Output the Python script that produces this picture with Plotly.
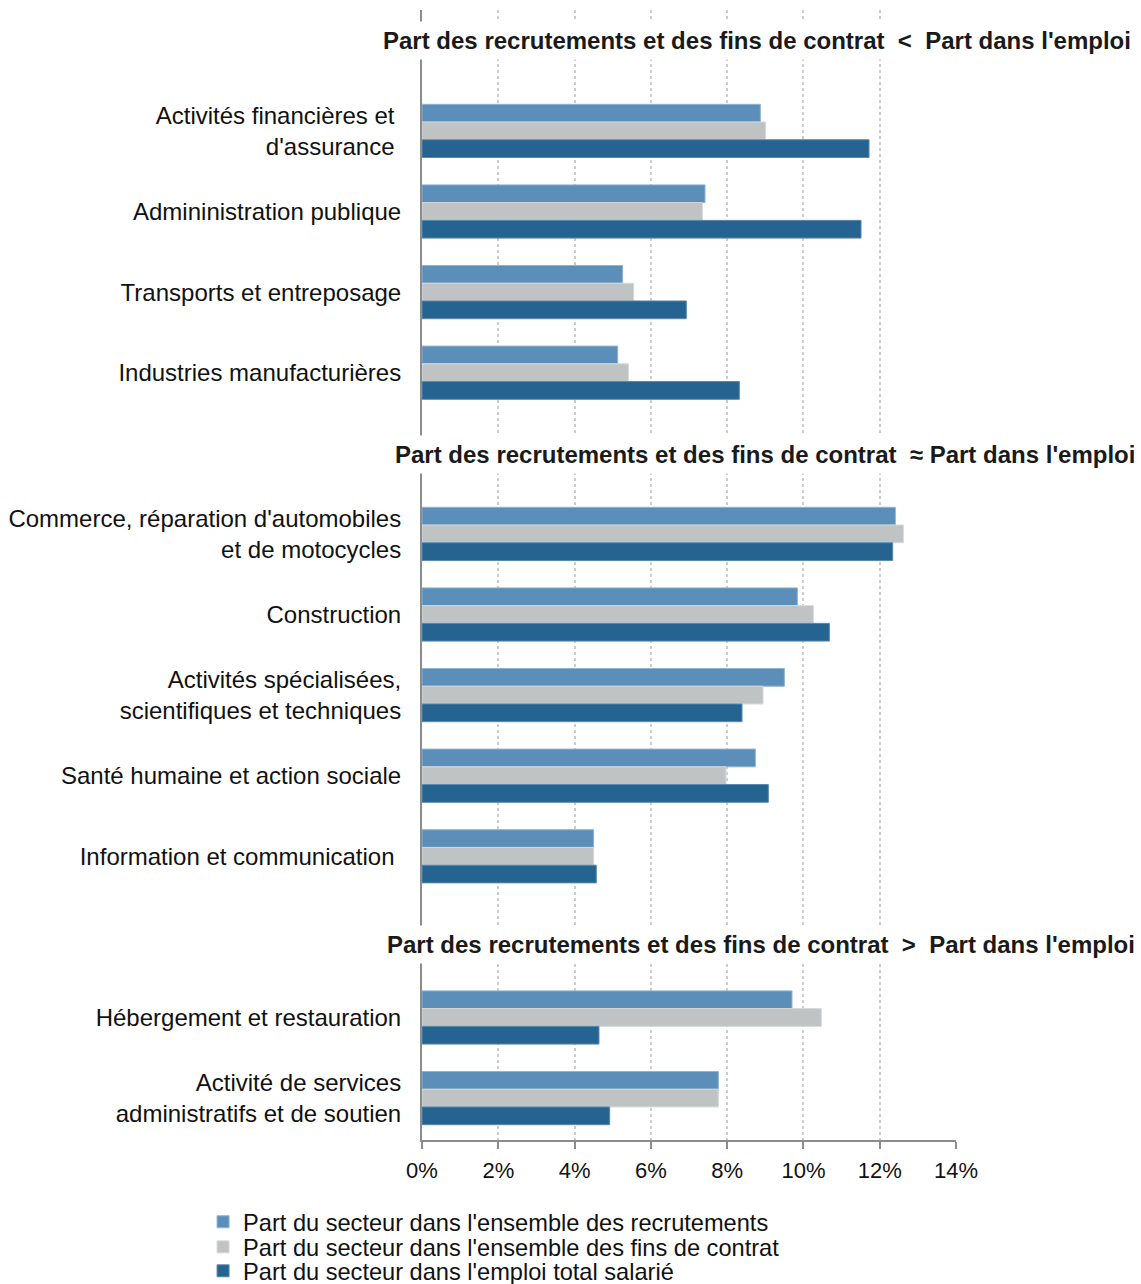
import plotly.graph_objects as go

# Categories (top to bottom), with blank placeholders for section headers
categories = [
    " ",
    "Activités financières et\u00a0<br>d'assurance\u00a0",
    "Admininistration publique",
    "Transports et entreposage",
    "Industries manufacturières",
    "  ",
    "Commerce, réparation d'automobiles<br>et de motocycles",
    "Construction",
    "Activités spécialisées,<br>scientifiques et techniques",
    "Santé humaine et action sociale",
    "Information et communication\u00a0",
    "   ",
    "Hébergement et restauration",
    "Activité de services<br>administratifs et de soutien",
]

# Values in % (None for header placeholders)
recrutements = [None, 8.87, 7.42, 5.26, 5.13, None, 12.41, 9.84, 9.50, 8.74, 4.50, None, 9.70, 7.77]
fins_contrat = [None, 9.01, 7.35, 5.55, 5.41, None, 12.62, 10.26, 8.94, 7.97, 4.50, None, 10.47, 7.77]
emploi_total = [None, 11.72, 11.51, 6.93, 8.32, None, 12.34, 10.68, 8.39, 9.08, 4.57, None, 4.64, 4.92]

series_names = [
    "Part du secteur dans l'ensemble des recrutements",
    "Part du secteur dans l'ensemble des fins de contrat",
    "Part du secteur dans l'emploi total salarié",
]
series_colors = ["#5B8FB9", "#BFC3C4", "#256490"]
series_edges = ["#8FB3D2", "#D6D9DA", "#5A89AE"]
legend_ids = ["legend", "legend2", "legend3"]
legend_y = [-0.0725, -0.0947, -0.1159]

headers = [
    "Part des recrutements et des fins de contrat\u00a0 <\u00a0 Part dans l'emploi",
    "Part des recrutements et des fins de contrat\u00a0 \u2248 Part dans l'emploi",
    "Part des recrutements et des fins de contrat\u00a0 >\u00a0 Part dans l'emploi",
]
header_pos = [-0.12, 5.01, 11.1]
header_x = [1.339, 1.346, 1.346]

x_ticks = [0, 2, 4, 6, 8, 10, 12, 14]
x_ticklabels = [f"{t}%" for t in x_ticks]

FONT = "Liberation Sans, Arial, sans-serif"

fig = go.Figure()
for name, vals, col, edge, lg in zip(series_names, [recrutements, fins_contrat, emploi_total],
                                     series_colors, series_edges, legend_ids):
    fig.add_trace(go.Bar(
        y=categories, x=vals, name=name, orientation="h", legend=lg,
        marker=dict(color=col, line=dict(color=edge, width=1)),
    ))

for txt, yp, xp in zip(headers, header_pos, header_x):
    fig.add_annotation(
        text=f"<b>{txt}</b>", xref="paper", yref="y", x=xp, y=yp,
        xanchor="right", yanchor="middle", showarrow=False,
        font=dict(family=FONT, size=24, color="#1A1A1A"),
        bgcolor="white", borderpad=5,
    )

legend_common = dict(
    orientation="v", x=-0.41, xanchor="left", yanchor="middle",
    font=dict(family=FONT, size=23.6, color="#111111"),
    itemwidth=30, bgcolor="rgba(0,0,0,0)",
)

fig.update_layout(
    width=1141, height=1284,
    margin=dict(l=422, r=185, t=10, b=144, autoexpand=False),
    paper_bgcolor="white", plot_bgcolor="white",
    barmode="group", bargap=0.34, bargroupgap=0,
    font=dict(family=FONT, size=24, color="#111111"),
    showlegend=True,
    legend=dict(y=legend_y[0], **legend_common),
    legend2=dict(y=legend_y[1], **legend_common),
    legend3=dict(y=legend_y[2], **legend_common),
    xaxis=dict(
        range=[0, 14], tickvals=x_ticks, ticktext=x_ticklabels,
        showgrid=True, gridcolor="#CCCCCC", griddash="dot", gridwidth=2,
        showline=True, linecolor="#8C8C8C", linewidth=2,
        ticks="outside", ticklen=7, tickcolor="#8C8C8C", tickwidth=2,
        ticklabelstandoff=3,
        zeroline=False, tickfont=dict(size=22),
    ),
    yaxis=dict(
        type="category", categoryorder="array", categoryarray=categories,
        range=[13.52, -0.5],
        showline=True, linecolor="#8C8C8C", linewidth=2,
        showgrid=False, ticks="", ticklabelstandoff=14,
        tickfont=dict(size=24), zeroline=False,
    ),
)

fig.write_html("out.html")
